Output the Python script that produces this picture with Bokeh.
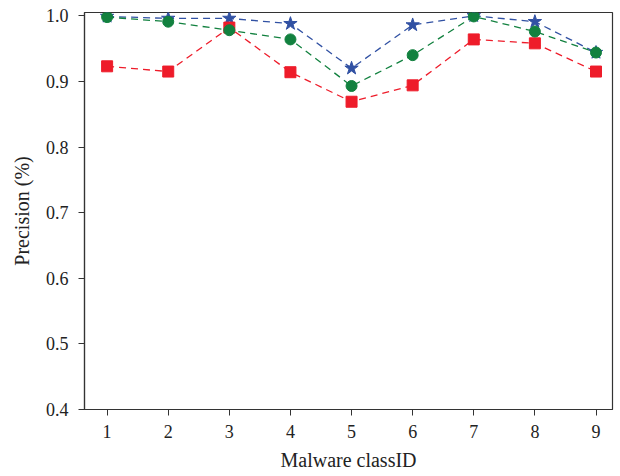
from bokeh.plotting import figure
from bokeh.embed import file_html
from bokeh.resources import INLINE
from bokeh.models import FixedTicker, Range1d, CustomJSTickFormatter

class_ids = [1, 2, 3, 4, 5, 6, 7, 8, 9]
prec_blue = [0.999, 0.996, 0.996, 0.988, 0.920, 0.986, 1.000, 0.991, 0.944]
prec_green = [0.998, 0.991, 0.978, 0.964, 0.893, 0.940, 0.999, 0.976, 0.944]
prec_red = [0.923, 0.915, 0.982, 0.914, 0.869, 0.894, 0.964, 0.958, 0.915]
y_ticks = [0.4, 0.5, 0.6, 0.7, 0.8, 0.9, 1.0]

BLUE = "#3151a3"
GREEN = "#12813f"
RED = "#ee1c2a"
FONT = "Liberation Serif"

p = figure(width=620, height=476, output_backend="svg", toolbar_location=None,
           x_range=Range1d(0.63, 9.27), y_range=Range1d(0.4, 1.005),
           min_border_left=84, min_border_right=8, min_border_top=12, min_border_bottom=67)
p.grid.visible = False
p.outline_line_color = "#333333"
p.outline_line_width = 1.2

p.line(class_ids, prec_red, line_color=RED, line_dash="7 5", line_width=1.3)
p.line(class_ids, prec_blue, line_color=BLUE, line_dash="7 5", line_width=1.3)
p.line(class_ids, prec_green, line_color=GREEN, line_dash="7 5", line_width=1.3)
p.scatter(class_ids, prec_blue, marker="star", size=14, fill_color=BLUE, line_color=BLUE)
p.scatter(class_ids, prec_red, marker="square", size=11, fill_color=RED, line_color=RED)
p.scatter(class_ids, prec_green, marker="circle", size=11, fill_color=GREEN, line_color=GREEN)

for ax in (p.xaxis[0], p.yaxis[0]):
    ax.axis_line_color = "#333333"
    ax.axis_line_width = 1.2
    ax.major_tick_line_color = "#333333"
    ax.major_tick_in = 0
    ax.major_tick_out = 6
    ax.minor_tick_line_color = None
    ax.major_label_text_font = FONT
    ax.major_label_text_font_size = "18px"
    ax.major_label_text_color = "#222222"
    ax.axis_label_text_font = FONT
    ax.axis_label_text_font_size = "20px"
    ax.axis_label_text_font_style = "normal"
    ax.axis_label_text_color = "#222222"

p.xaxis.ticker = FixedTicker(ticks=class_ids)
p.yaxis.ticker = FixedTicker(ticks=y_ticks)
p.yaxis.formatter = CustomJSTickFormatter(code="return tick.toFixed(1);")
p.xaxis.axis_label = "Malware classID"
p.yaxis.axis_label = "Precision (%)"
p.xaxis.major_label_standoff = 9
p.yaxis.major_label_standoff = 10
p.xaxis.axis_label_standoff = 8
p.yaxis.axis_label_standoff = 10

open("out.html", "w").write(file_html(p, INLINE))
